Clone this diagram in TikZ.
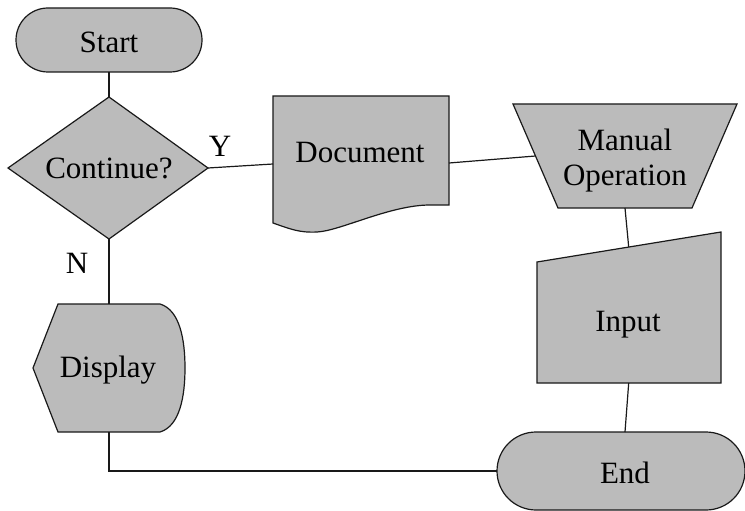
\documentclass[tikz,border=0pt]{standalone}
\usepackage{fontspec}
\setmainfont{Liberation Serif}
\begin{document}
\begin{tikzpicture}[x=1pt,y=-1pt,
  shapebox/.style={fill=shapegray,draw=black!90,line width=1.2pt,line join=miter},
  conn/.style={draw=black!90,line width=1.2pt},
  lbl/.style={font=\fontsize{31}{34}\selectfont,inner sep=0pt,text=black}]
\definecolor{shapegray}{RGB}{187,187,187}
\useasboundingbox (0,0) rectangle (745,511);
% Start
\draw[shapebox,rounded corners=32pt] (16,8) rectangle (202,72);
\node[lbl] (start) at (109,42) {Start};
\coordinate (startS) at (109,72);
% Diamond
\draw[shapebox] (109,97) -- (208,168) -- (109,239) -- (8,168) -- cycle;
\node[lbl] (cont) at (109,168) {Continue?};
\coordinate (contN) at (109,97);
\coordinate (contE) at (208,168);
\coordinate (contS) at (109,239);
\node[lbl] (ylab) at (220,146) {Y};
\node[lbl] (nlab) at (77,263) {N};
% Document
\draw[shapebox] (273,96) -- (449,96) -- (449,205) -- (430,205)
  .. controls (390,205) and (340,231) .. (317,232)
  .. controls (300,233) and (290,229) .. (273,223) -- cycle;
\node[lbl] (doc) at (360,153) {Document};
\coordinate (docW) at (273,164);
\coordinate (docE) at (449,163);
% Manual operation
\draw[shapebox] (513,104) -- (737,104) -- (692,208) -- (558,208) -- cycle;
\node[lbl,align=center] (manop) at (625,161) {Manual\\[1pt]Operation};
\coordinate (manW) at (535.5,156);
\coordinate (manS) at (625,208);
% Input
\draw[shapebox] (537,262) -- (721,232) -- (721,383) -- (537,383) -- cycle;
\node[lbl] (input) at (628,325) {Input};
\coordinate (inN) at (628.7,247);
\coordinate (inS) at (628.7,383);
% Display
\draw[shapebox] (33,368) -- (58,304) -- (160,304)
  .. controls (180,310) and (185,340) .. (185,368)
  .. controls (185,396) and (180,426) .. (160,432) -- (58,432) -- cycle;
\node[lbl] (disp) at (108,370) {Display};
\coordinate (dispN) at (109,304);
\coordinate (dispS) at (109,432);
% End
\draw[shapebox,rounded corners=39pt] (497,432) rectangle (745,510);
\node[lbl] (endn) at (625,473) {End};
\coordinate (endN) at (625,432);
\coordinate (endW) at (497,471);
% connectors
\draw[conn] (startS) -- (contN);
\draw[conn] (contE) -- (docW);
\draw[conn] (docE) -- (manW);
\draw[conn] (manS) -- (inN);
\draw[conn] (inS) -- (endN);
\draw[conn] (contS) -- (dispN);
\draw[conn] (dispS) |- (endW);
\end{tikzpicture}
\end{document}
